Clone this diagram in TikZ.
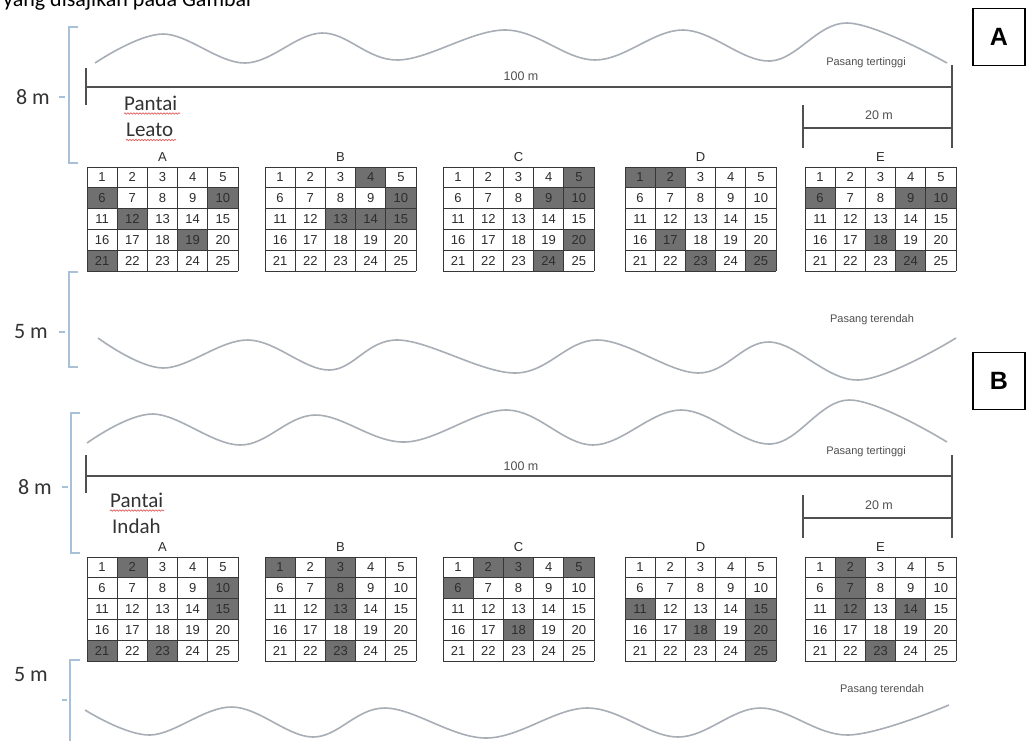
\documentclass[tikz,border=0pt]{standalone}
\usepackage{fontspec}
\setmainfont{Carlito}
\setsansfont{Liberation Sans}
\usetikzlibrary{decorations.pathmorphing}
\definecolor{wavegrey}{RGB}{168,174,182}
\definecolor{bracketblue}{RGB}{168,192,216}
\definecolor{linegrey}{RGB}{80,80,80}
\definecolor{cellgrey}{RGB}{112,112,112}
\definecolor{gridgrey}{RGB}{55,55,55}
\definecolor{numgrey}{RGB}{45,45,45}
\definecolor{spellred}{RGB}{226,92,92}
\begin{document}
\begin{tikzpicture}[x=1pt,y=-1pt,
  wave/.style={wavegrey,line width=1.6pt},
  brace/.style={bracketblue,line width=1.2pt},
  rule/.style={linegrey,line width=1.4pt},
  cellline/.style={gridgrey,line width=0.9pt},
  cellnum/.style={font=\sffamily\fontsize{13}{14}\selectfont,text=numgrey,inner sep=0pt},
  glabel/.style={font=\sffamily\fontsize{13}{14}\selectfont,text=numgrey,inner sep=0pt},
  small/.style={font=\sffamily\fontsize{12.5}{14}\selectfont,text=linegrey,inner sep=0pt},
  tide/.style={font=\sffamily\fontsize{11}{12}\selectfont,text=linegrey,inner sep=0pt},
  beach/.style={font=\fontsize{21}{22}\selectfont,text=black!80,inner sep=0pt,anchor=west},
  metre/.style={font=\fontsize{22}{22}\selectfont,text=black!80,inner sep=0pt,anchor=east},
  spell/.style={spellred,line width=0.7pt,decorate,decoration={snake,amplitude=0.7pt,segment length=3pt}},
  panel/.style={draw=black,line width=1.2pt,font=\sffamily\bfseries\fontsize{25}{25}\selectfont,minimum width=52pt,minimum height=57pt}]
\useasboundingbox (0,0) rectangle (1027,740);
\fill[white] (0,0) rectangle (1027,740);

% caption cut off at the top
\node[font=\fontsize{22}{22}\selectfont,anchor=base west,inner sep=0pt] (caption) at (3,6) {yang disajikan pada Gambar};

% ---------- A : Pantai Leato ----------
\node[panel] (panelA) at (999,37) {A};
\draw[brace] (78,27) -- (69,27) -- (69,163) -- (78,163);
\draw[brace] (78,272) -- (69,272) -- (69,367) -- (78,367);
\draw[brace] (59,97) -- (65,97);
\draw[brace] (59,332) -- (65,332);
\node[metre] (hiA) at (50,97) {8 m};
\node[metre] (loA) at (48,332) {5 m};

\draw[wave] plot[smooth,tension=0.6] coordinates {(95,63) (163,34) (245,63) (322,33) (398,60) (505,30) (595,60) (683,30) (770,61) (847,23) (947,63)};
\draw[wave] plot[smooth,tension=0.6] coordinates {(98,338) (163,368) (248,340) (329,370) (398,340) (515,373) (597,340) (698,373) (770,342) (858,380) (956,338)};

\draw[rule] (86,68) -- (86,105);
\draw[rule] (952,65) -- (952,148);
\draw[rule] (86,87) -- (952,87);
\draw[rule] (803,105) -- (803,148);
\draw[rule] (803,128) -- (952,128);
\node[small] (lenA) at (521,76) {100 m};
\node[small] (partA) at (879,115) {20 m};
\node[tide] (highA) at (866,63) {Pasang tertinggi};
\node[tide] (lowA) at (872,320) {Pasang terendah};

\node[beach] (nameA1) at (124,103) {Pantai};
\node[beach] (nameA2) at (126,130) {Leato};
\draw[spell] (nameA1.south west) ++(0,3) -- ++(56,0);
\draw[spell] (nameA2.south west) ++(0,3) -- ++(50,0);

% ---------- B : Pantai Indah ----------
\node[panel] (panelB) at (999,381) {B};
\draw[brace] (80,413) -- (71,413) -- (71,553) -- (80,553);
\draw[brace] (80,660) -- (70,660) -- (70,745);
\draw[brace] (62,487) -- (68,487);
\draw[brace] (62,700) -- (67,700);
\node[metre] (hiB) at (52,487) {8 m};
\node[metre] (loB) at (48,675) {5 m};

\draw[wave] plot[smooth,tension=0.6] coordinates {(87,443) (153,414) (240,445) (315,415) (405,442) (507,410) (593,445) (681,410) (771,444) (849,400) (947,442)};
\draw[wave] plot[smooth,tension=0.6] coordinates {(85,710) (150,735) (232,707) (313,737) (385,708) (486,738) (587,708) (678,737) (760,708) (848,735) (949,705)};

\draw[rule] (86,455) -- (86,493);
\draw[rule] (952,455) -- (952,538);
\draw[rule] (86,476) -- (952,476);
\draw[rule] (803,495) -- (803,538);
\draw[rule] (803,518) -- (952,518);
\node[small] (lenB) at (521,466) {100 m};
\node[small] (partB) at (879,505) {20 m};
\node[tide] (highB) at (866,452) {Pasang tertinggi};
\node[tide] (lowB) at (882,690) {Pasang terendah};

\node[beach] (nameB1) at (110,500) {Pantai};
\node[beach] (nameB2) at (112,526) {Indah};
\draw[spell] (nameB1.south west) ++(0,3) -- ++(54,0);

% ---------- quadrat grids ----------
\foreach \off in {0,390}
  \foreach \gx/\lab in {87/A,265/B,443/C,625/D,805/E}
    \node[glabel] (lab-\off-\lab) at (\gx+75.5,\off+157) {\lab};

\foreach \off/\gx/\cells in {
  0/87/{6,10,12,19,21}, 0/265/{4,10,13,14,15}, 0/443/{5,9,10,20,24},
  0/625/{1,2,17,23,25}, 0/805/{6,9,10,18,24},
  390/87/{2,10,15,21,23}, 390/265/{1,3,8,13,23}, 390/443/{2,3,5,6,18},
  390/625/{11,15,18,20,25}, 390/805/{2,7,12,14,23}}
{
  \foreach \n in \cells
    \fill[cellgrey] ({\gx+30.2*mod(\n-1,5)},{\off+167+20.8*int((\n-1)/5)}) rectangle ++(30.2,20.8);
  \foreach \i in {0,...,5} {
    \draw[cellline] ({\gx+30.2*\i},\off+167) -- ++(0,104);
    \draw[cellline] (\gx,{\off+167+20.8*\i}) -- ++(151,0);
  }
  \foreach \n in {1,...,25}
    \node[cellnum] (n-\off-\gx-\n) at ({\gx+15.1+30.2*mod(\n-1,5)},{\off+177.4+20.8*int((\n-1)/5)}) {\n};
}
\end{tikzpicture}
\end{document}
